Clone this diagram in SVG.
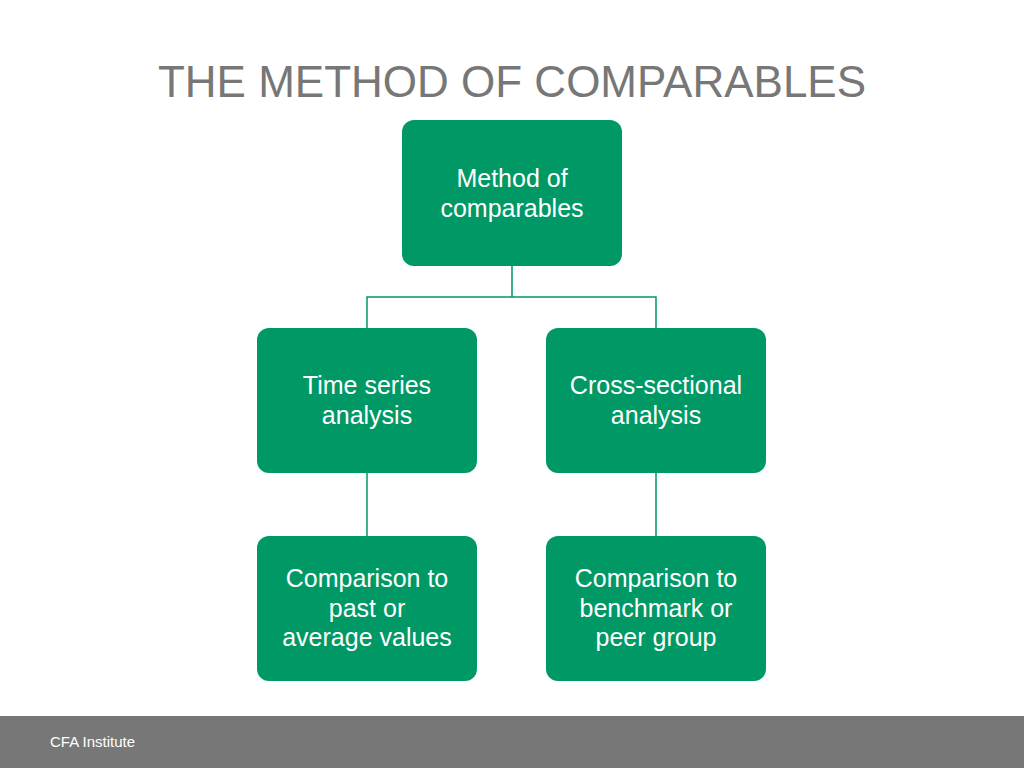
<svg xmlns="http://www.w3.org/2000/svg" width="1024" height="768" viewBox="0 0 1024 768">
<style>
.box{fill:#009966;}
.t{fill:#fff;font-family:"Liberation Sans",Arial,sans-serif;font-size:25px;text-anchor:middle;}
.c{stroke:#009966;stroke-width:1.5;fill:none;}
</style>
<rect width="1024" height="768" fill="#fff"/>
<text x="512" y="97" font-family="Liberation Sans,Arial,sans-serif" font-size="44" fill="#777" text-anchor="middle">THE METHOD OF COMPARABLES</text>
<g id="connectors">
<path class="c" d="M512 266V297M367 328V297H656V328M367 473V536M656 473V536"/>
</g>
<g id="n1"><rect class="box" x="402" y="120" width="220" height="146" rx="12"/><text class="t" x="512" y="187">Method of</text><text class="t" x="512" y="217">comparables</text></g>
<g id="n2"><rect class="box" x="257" y="328" width="220" height="145" rx="12"/><text class="t" x="367" y="394">Time series</text><text class="t" x="367" y="424">analysis</text></g>
<g id="n3"><rect class="box" x="546" y="328" width="220" height="145" rx="12"/><text class="t" x="656" y="394">Cross-sectional</text><text class="t" x="656" y="424">analysis</text></g>
<g id="n4"><rect class="box" x="257" y="536" width="220" height="145" rx="12"/><text class="t" x="367" y="587">Comparison to</text><text class="t" x="367" y="617">past or</text><text class="t" x="367" y="646">average values</text></g>
<g id="n5"><rect class="box" x="546" y="536" width="220" height="145" rx="12"/><text class="t" x="656" y="587">Comparison to</text><text class="t" x="656" y="617">benchmark or</text><text class="t" x="656" y="646">peer group</text></g>
<rect x="0" y="716" width="1024" height="52" fill="#777"/>
<text x="50" y="747" font-family="Liberation Sans,Arial,sans-serif" font-size="15" fill="#fff">CFA Institute</text>
</svg>
